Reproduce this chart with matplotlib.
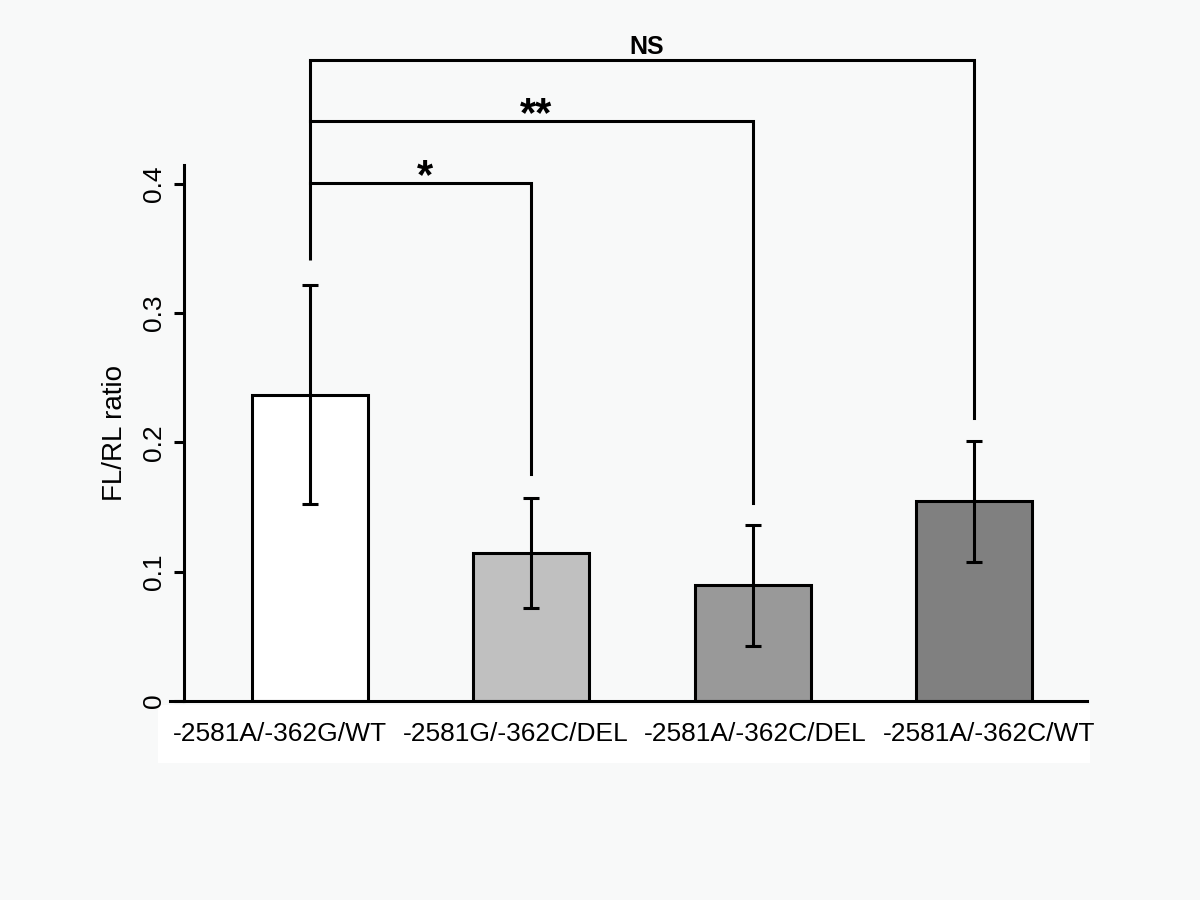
import numpy as np
import matplotlib.pyplot as plt
from matplotlib.patches import Rectangle

plt.rcParams['font.family'] = ['Liberation Sans', 'DejaVu Sans']

# data
groups = ['-2581A/-362G/WT', '-2581G/-362C/DEL', '-2581A/-362C/DEL', '-2581A/-362C/WT']
ratio = [0.237, 0.1145, 0.0897, 0.1547]
err = [0.0845, 0.0428, 0.0468, 0.0468]
colors = ['#ffffff', '#c0c0c0', '#999999', '#808080']

# significance brackets: (target bar, bracket height, end height, label)
sig_target = [1, 2, 3]
sig_height = [0.4008, 0.449, 0.496]
sig_end = [0.1756, 0.153, 0.219]
sig_label = ['*', '**', 'NS']
bracket_start = 0.341

bg = '#f8f9f9'
lw = 2.2

fig = plt.figure(figsize=(12, 9), dpi=100, facecolor=bg)
ax = fig.add_axes([170/1200, 199/900, (1087-170)/1200, (701-165)/900])
ax.set_facecolor('none')
# pale white strip behind the group labels
ax.add_patch(Rectangle((158/1200, 137/900), 932/1200, 58/900, transform=fig.transFigure,
                       facecolor='white', edgecolor='none', zorder=0, clip_on=False))

x = np.arange(len(groups))
ax.bar(x, ratio, width=0.525, color=colors, edgecolor='black', linewidth=lw, zorder=2)
ax.errorbar(x, ratio, yerr=err, fmt='none', ecolor='black', elinewidth=lw,
            capsize=6, capthick=lw, zorder=3)

# brackets
ax.plot([0, 0], [bracket_start, max(sig_height)], color='black', lw=lw, clip_on=False,
        solid_capstyle='butt')
for t, h, e, lab in zip(sig_target, sig_height, sig_end, sig_label):
    ax.plot([0, t, t], [h, h, e], color='black', lw=lw, clip_on=False,
            solid_joinstyle='miter')
    if lab == 'NS':
        ax.text(t / 2 + 0.02, h + 0.001, lab, ha='center', va='bottom', fontsize=18,
                fontweight='bold', clip_on=False)
    else:
        ax.text(t / 2 + 0.02, h - 0.011, lab, ha='center', va='bottom', fontsize=30,
                fontweight='bold', clip_on=False)

ax.set_xlim(-0.632, 3.51)
ax.set_ylim(0, 0.4147)
ax.spines['top'].set_visible(False)
ax.spines['right'].set_visible(False)
ax.spines['left'].set_position(('data', -0.569))
ax.spines['left'].set_linewidth(lw)
ax.spines['bottom'].set_linewidth(lw)

ax.set_yticks([0, 0.1, 0.2, 0.3, 0.4])
ax.set_yticklabels(['0', '0.1', '0.2', '0.3', '0.4'], rotation=90, va='center')
ax.tick_params(axis='y', length=7, width=lw, labelsize=19, pad=6)
# group labels sit a little off the bar centres in the original
label_shift = [-0.136, -0.069, 0.011, 0.068]
ax.set_xticks(x + np.array(label_shift))
ax.set_xticklabels(groups)
ax.tick_params(axis='x', length=0, labelsize=19, pad=15)
ax.set_ylabel('FL/RL ratio', fontsize=20, labelpad=10)

fig.savefig('out.png', dpi=100, facecolor=bg)
